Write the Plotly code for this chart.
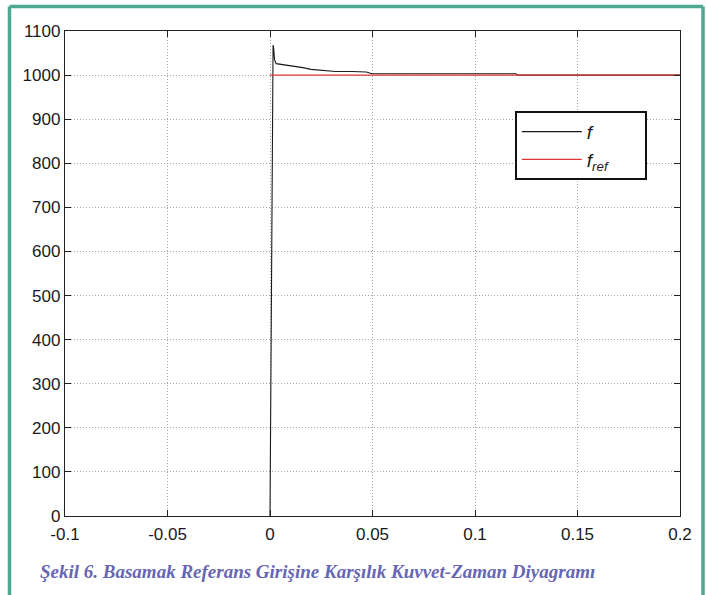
import plotly.graph_objects as go

# Force response f (time in s, force)
t_f = [0.0, 0.0001, 0.0003, 0.0006, 0.0009, 0.0012, 0.0015, 0.0018, 0.0022, 0.003,
       0.006, 0.010, 0.013, 0.016, 0.020, 0.025, 0.032, 0.040, 0.047, 0.049,
       0.050, 0.080, 0.100, 0.1200, 0.1210, 0.150, 0.200]
f_vals = [0, 70, 200, 450, 800, 1000, 1068, 1060, 1035, 1026,
          1024, 1022, 1020, 1017, 1013, 1011, 1008, 1008, 1007, 1004,
          1003, 1003, 1003, 1003, 1000, 1000, 1000]

# Reference force f_ref
t_ref = [0.0, 0.2]
f_ref = [1000, 1000]

x_ticks = [-0.1, -0.05, 0, 0.05, 0.1, 0.15, 0.2]
x_tick_labels = ["-0.1", "-0.05", "0", "0.05", "0.1", "0.15", "0.2"]
y_ticks = list(range(0, 1101, 100))

caption = "Şekil 6. Basamak Referans Girişine Karşılık Kuvvet-Zaman Diyagramı"

W, H = 707, 595
L, R, T, B = 65, 680, 31, 516

def px(x):
    return (x - L) / (R - L)

def py(y):
    return (B - y) / (B - T)

pad = "&nbsp;" * 6
fig = go.Figure()
fig.add_trace(go.Scatter(x=t_f, y=f_vals, mode="lines", name="<i>f</i>" + pad,
                         line=dict(color="#1a1a1a", width=1.1)))
fig.add_trace(go.Scatter(x=t_ref, y=f_ref, mode="lines", name="<i>f<sub>ref</sub></i>" + pad,
                         line=dict(color="#e03535", width=1.1)))

axis_common = dict(
    showline=True, linecolor="#222", linewidth=1.3, mirror="ticks",
    ticks="inside", ticklen=6, tickcolor="#222", tickwidth=1,
    showgrid=True, gridcolor="#a8a8a8", griddash="1px,2px", gridwidth=1,
    zeroline=False,
    tickfont=dict(family="Liberation Sans, Arial, sans-serif", size=17, color="#1a1a1a"),
)

fig.update_xaxes(range=[-0.1, 0.2], tickvals=x_ticks, ticktext=x_tick_labels,
                 ticklabelstandoff=2, **axis_common)
fig.update_yaxes(range=[0, 1100], tickvals=y_ticks, **axis_common)

teal = "#4fa891"
shapes = [
    dict(type="line", xref="paper", yref="paper", x0=px(9.5), x1=px(9.5), y0=py(600), y1=py(6.5),
         line=dict(color=teal, width=3.5)),
    dict(type="line", xref="paper", yref="paper", x0=px(9.5), x1=px(703), y0=py(6.5), y1=py(6.5),
         line=dict(color=teal, width=3.5)),
    dict(type="line", xref="paper", yref="paper", x0=px(703), x1=px(703), y0=py(6.5), y1=py(600),
         line=dict(color=teal, width=3.5)),
]

fig.update_layout(
    width=W, height=H,
    margin=dict(l=L, r=W - R, t=T, b=H - B),
    paper_bgcolor="white", plot_bgcolor="white",
    shapes=shapes,
    showlegend=True,
    legend=dict(x=px(515), y=py(111), xanchor="left", yanchor="top",
                bgcolor="white", bordercolor="#111", borderwidth=1.8,
                itemwidth=60,
                font=dict(family="Liberation Sans, Arial, sans-serif", size=19, color="#1a1a1a"),
                tracegroupgap=8),
    annotations=[dict(text="<b><i>" + caption + "</i></b>", xref="paper", yref="paper",
                      x=px(38), y=py(571), xanchor="left", yanchor="middle", showarrow=False,
                      font=dict(family="Liberation Serif, Times New Roman, serif", size=19,
                                color="#6666b4"))],
)

fig.write_html("out.html")
